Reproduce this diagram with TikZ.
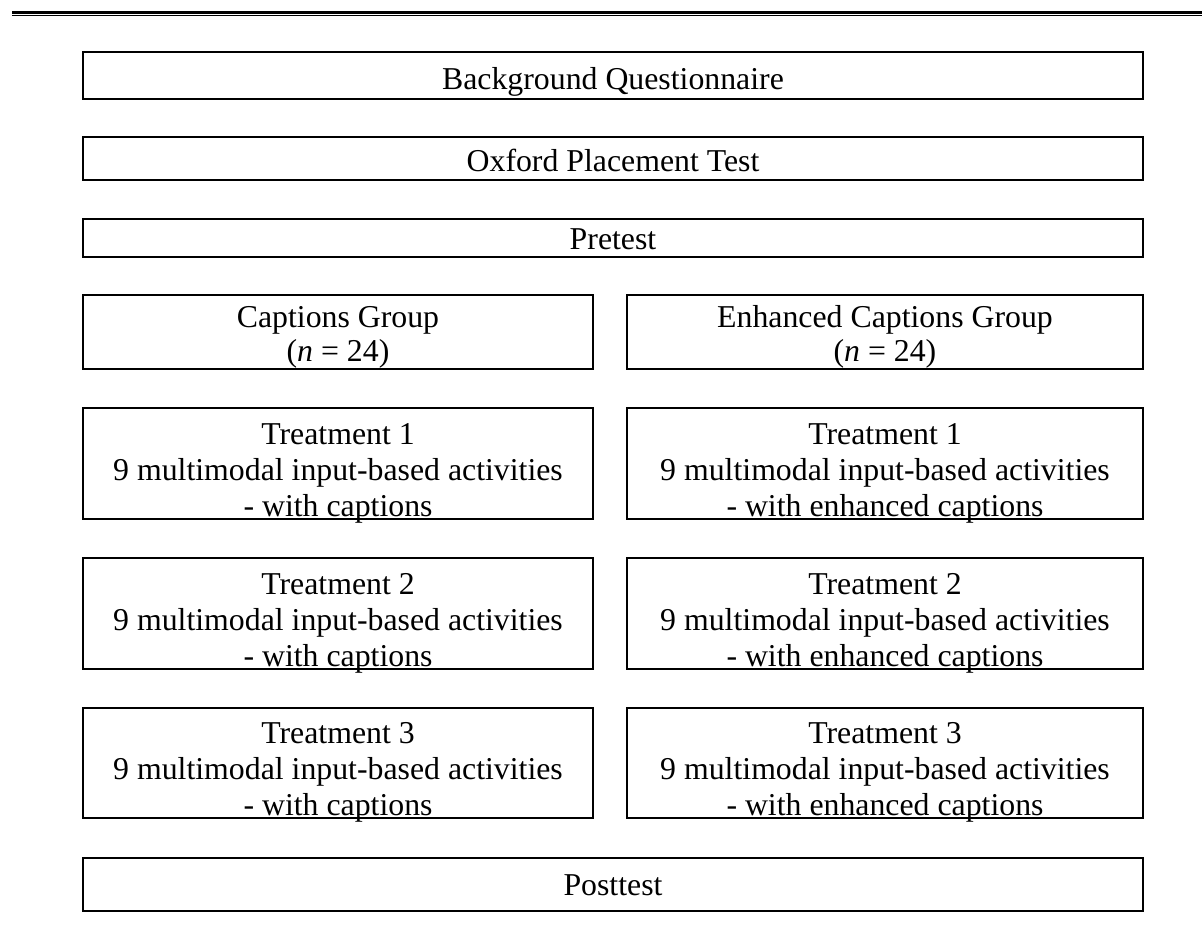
\documentclass[tikz,border=0pt]{standalone}
\usepackage{fontspec}
\setmainfont{Liberation Serif}
\begin{document}
\begin{tikzpicture}[x=0.75pt,y=-0.75pt,
  box/.style={draw=black, line width=1.5pt, inner sep=0pt, rectangle},
  fullbox/.style={box, minimum width=795pt},
  leftbox/.style={box, minimum width=382.5pt},
  rightbox/.style={box, minimum width=387pt},
  txt/.style={font=\fontsize{23.85}{27}\selectfont, align=center, inner sep=0pt},
  grouptxt/.style={txt, font=\fontsize{23.85}{25.5}\selectfont},
]
\useasboundingbox (0,0) rectangle (1202,940);
\fill[white] (0,0) rectangle (1202,940);
% top double rule
\coordinate (ra) at (12,12.5); \coordinate (rb) at (1202,12.5);
\coordinate (rc) at (12,15.4); \coordinate (rd) at (1202,15.4);
\draw[line width=2.25pt] (ra) -- (rb);
\draw[line width=0.9pt] (rc) -- (rd);

% full-width boxes
\node[fullbox, minimum height=35.25pt] (bg) at (613,75.5) {};
\node[txt, anchor=base] (bgt) at ([yshift=-10.4pt]bg.center) {Background Questionnaire};

\node[fullbox, minimum height=32.25pt] (ox) at (613,158.5) {};
\node[txt, anchor=base] (oxt) at ([yshift=-9.4pt]ox.center) {Oxford Placement Test};

\node[fullbox, minimum height=28.5pt] (pre) at (613,238) {};
\node[txt, anchor=base] (pret) at ([yshift=-8.6pt]pre.center) {Pretest};

% groups
\node[leftbox, minimum height=55.5pt] (cg) at (338,332) {};
\node[grouptxt] (cgt) at ([yshift=-3.8pt]cg.center) {Captions Group\\(\textit{n} = 24)};
\node[rightbox, minimum height=55.5pt] (eg) at (885,332) {};
\node[grouptxt] (egt) at ([yshift=-3.8pt]eg.center) {Enhanced Captions Group\\(\textit{n} = 24)};

% treatments
\node[leftbox, minimum height=83.25pt] (l1) at (338,463.5) {};
\node[txt] (l1t) at ([yshift=-7.2pt]l1.center) {Treatment 1\\9 multimodal input-based activities\\- with captions};
\node[rightbox, minimum height=83.25pt] (r1) at (885,463.5) {};
\node[txt] (r1t) at ([yshift=-7.2pt]r1.center) {Treatment 1\\9 multimodal input-based activities\\- with enhanced captions};

\node[leftbox, minimum height=83.25pt] (l2) at (338,613.5) {};
\node[txt] (l2t) at ([yshift=-7.2pt]l2.center) {Treatment 2\\9 multimodal input-based activities\\- with captions};
\node[rightbox, minimum height=83.25pt] (r2) at (885,613.5) {};
\node[txt] (r2t) at ([yshift=-7.2pt]r2.center) {Treatment 2\\9 multimodal input-based activities\\- with enhanced captions};

\node[leftbox, minimum height=82.5pt] (l3) at (338,763) {};
\node[txt] (l3t) at ([yshift=-7.2pt]l3.center) {Treatment 3\\9 multimodal input-based activities\\- with captions};
\node[rightbox, minimum height=82.5pt] (r3) at (885,763) {};
\node[txt] (r3t) at ([yshift=-7.2pt]r3.center) {Treatment 3\\9 multimodal input-based activities\\- with enhanced captions};

% posttest
\node[fullbox, minimum height=39.75pt] (post) at (613,884.5) {};
\node[txt, anchor=base] (postt) at ([yshift=-8.4pt]post.center) {Posttest};
\end{tikzpicture}
\end{document}
